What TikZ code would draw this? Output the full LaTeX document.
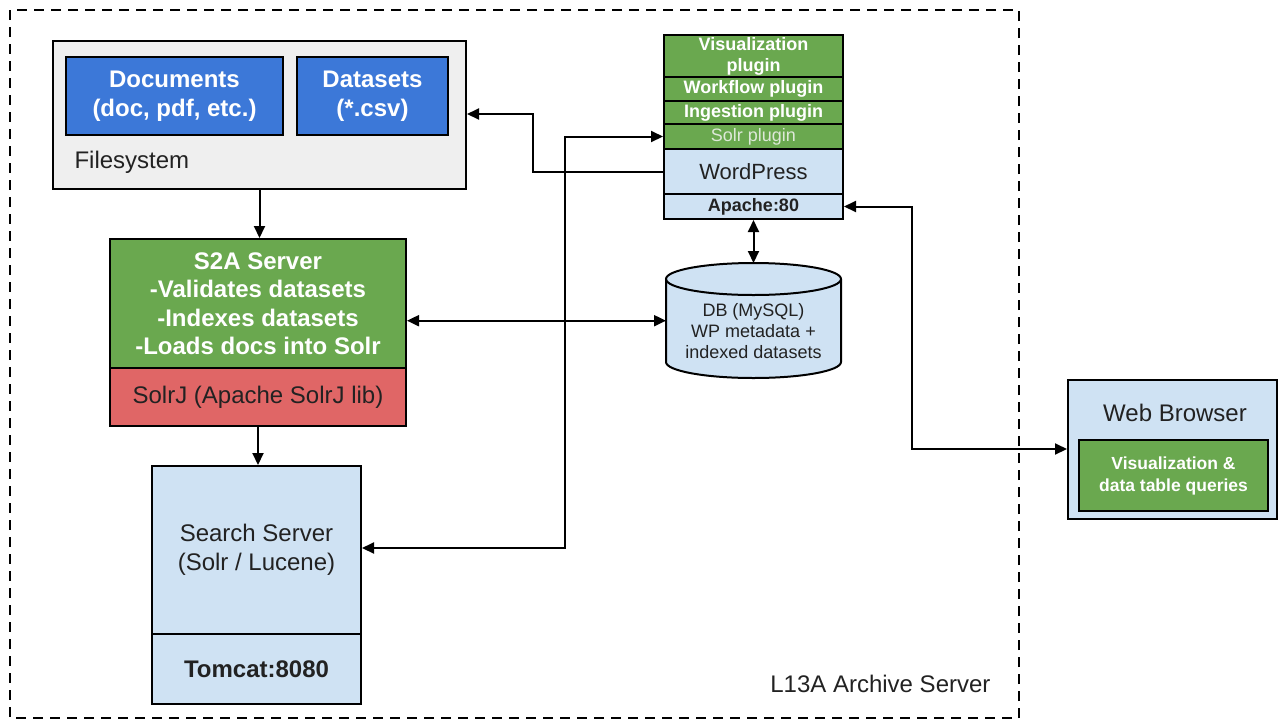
\documentclass[tikz,border=0pt]{standalone}
\usepackage{fontspec}
\setmainfont{Liberation Sans}
\usetikzlibrary{arrows.meta}
\definecolor{cblue}{HTML}{3C78D8}
\definecolor{cgreen}{HTML}{6AA84F}
\definecolor{clight}{HTML}{CFE2F3}
\definecolor{cgray}{HTML}{EFEFEF}
\definecolor{cred}{HTML}{E06666}
\definecolor{ctext}{HTML}{222222}
\definecolor{cfaint}{HTML}{DDE8D8}
\tikzset{
  box/.style={draw, line width=2pt, inner sep=0pt, anchor=north west, align=center},
  big/.style={font=\fontsize{24}{29}\selectfont},
  bigb/.style={font=\fontsize{24}{28.5}\selectfont\bfseries},
  small/.style={font=\fontsize{18}{21}\selectfont},
  smallb/.style={font=\fontsize{18}{21}\selectfont\bfseries},
  arr/.style={line width=2pt, -{Triangle[length=12pt,width=11pt]}},
  arrb/.style={line width=2pt, {Triangle[length=12pt,width=11pt]}-{Triangle[length=12pt,width=11pt]}},
}
\begin{document}
\begin{tikzpicture}[x=1pt,y=-1pt]
\useasboundingbox (0,0) rectangle (1278,721);
% outer dashed boundary
\draw[line width=2pt, dash pattern=on 10pt off 7pt] (10,10) rectangle (1019,718);
\node[big, text=ctext, anchor=south east] (l13a) at (994,696) {L13A Archive Server};

% Filesystem
\node[box, fill=cgray, minimum width=413pt, minimum height=148pt] (fs) at (52,40) {};
\node[big, text=ctext, anchor=base west] (fslabel) at (71,168) {Filesystem};
\node[box, bigb, fill=cblue, text=white, minimum width=217pt, minimum height=78pt] (docs) at (65,56) {Documents\\(doc, pdf, etc.)};
\node[box, bigb, fill=cblue, text=white, minimum width=151pt, minimum height=78pt] (data) at (296,56) {Datasets\\(*.csv)};

% S2A server
\node[box, bigb, fill=cgreen, text=white, minimum width=296pt, minimum height=129pt] (s2a) at (109,238) {S2A Server\\-Validates datasets\\-Indexes datasets\\-Loads docs into Solr};
\node[box, big, fill=cred, text=ctext, minimum width=296pt, minimum height=58pt] (solrj) at (109,367) {SolrJ (Apache SolrJ lib)};

% Search server
\node[box, big, fill=clight, text=ctext, minimum width=209pt, minimum height=168pt] (search) at (151,465) {Search Server\\(Solr / Lucene)};
\node[box, bigb, fill=clight, text=ctext, minimum width=209pt, minimum height=70pt] (tomcat) at (151,633) {Tomcat:8080};

% WordPress stack
\node[box, smallb, fill=cgreen, text=white, minimum width=179pt, minimum height=42pt] (vis) at (663,34) {Visualization\\plugin};
\node[box, smallb, fill=cgreen, text=white, minimum width=179pt, minimum height=24pt] (wf) at (663,76) {Workflow plugin};
\node[box, smallb, fill=cgreen, text=white, minimum width=179pt, minimum height=23pt] (ing) at (663,100) {Ingestion plugin};
\node[box, small, fill=cgreen, text=cfaint, minimum width=179pt, minimum height=25pt] (solrp) at (663,123) {Solr plugin};
\node[box, fill=clight, text=ctext, font=\fontsize{22}{26}\selectfont, minimum width=179pt, minimum height=45pt] (wp) at (663,148) {WordPress};
\node[box, smallb, fill=clight, text=ctext, minimum width=179pt, minimum height=25pt] (apache) at (663,193) {Apache:80};

% DB cylinder
\node[inner sep=0pt, minimum width=175pt, minimum height=115pt, anchor=north west] (db) at (666,263) {};
\fill[clight] (666,279) -- (666,362) arc[start angle=180, end angle=360, x radius=87.5pt, y radius=16pt] -- (841,279) arc[start angle=0, end angle=180, x radius=87.5pt, y radius=16pt] -- cycle;
\draw[line width=2pt] (753.5,279) ellipse [x radius=87.5pt, y radius=16pt];
\draw[line width=2pt] (666,279) -- (666,362) arc[start angle=180, end angle=360, x radius=87.5pt, y radius=16pt] -- (841,279);
\node[small, text=ctext, align=center] (dbtext) at (753.5,331) {DB (MySQL)\\WP metadata +\\indexed datasets};

% Web browser
\node[box, big, fill=clight, minimum width=209pt, minimum height=139pt] (browser) at (1067,379) {};
\node[big, text=ctext] (brlabel) at (1175,413) {Web Browser};
\node[box, smallb, fill=cgreen, text=white, font=\fontsize{17.5}{22}\selectfont\bfseries, minimum width=189pt, minimum height=71pt] (query) at (1078,439) {Visualization \&\\data table queries};

% connectors
\coordinate (k1) at (533,114);
\coordinate (k2) at (565,548);
\coordinate (k3) at (912,449);
\draw[arr] (fs.south) -- (fs.south |- s2a.north);
\draw[arr] (solrj.south) -- (solrj.south |- search.north);
\draw[arr] (wp.west) -| (k1) -- (k1 -| fs.east);
\draw[arrb] (search.east |- k2) -- (k2) |- (solrp.west);
\draw[arrb] (s2a.east |- db.west) -- (db.west);
\draw[arrb] (apache.south) -- (apache.south |- db.north);
\draw[arrb] (apache.east) -| (k3) -- (k3 -| browser.west);
\end{tikzpicture}
\end{document}
